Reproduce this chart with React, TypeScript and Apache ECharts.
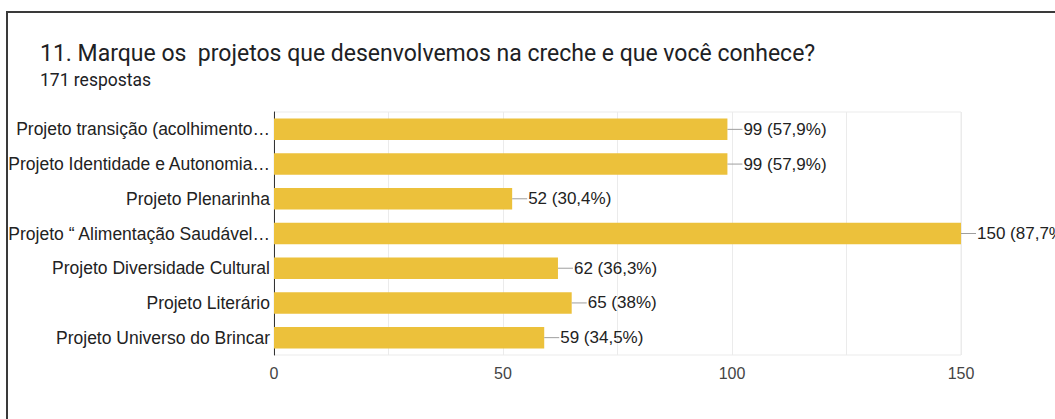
import React, { useEffect, useRef } from "react";
import * as echarts from "echarts";

const categories = [
  "Projeto transição (acolhimento…",
  "Projeto Identidade e Autonomia…",
  "Projeto Plenarinha",
  "Projeto “ Alimentação Saudável…",
  "Projeto Diversidade Cultural",
  "Projeto Literário",
  "Projeto Universo do Brincar",
];
const values = [99, 99, 52, 150, 62, 65, 59];
const percents = ["57,9%", "57,9%", "30,4%", "87,7%", "36,3%", "38%", "34,5%"];
const tickLabels = [0, 50, 100, 150];

const title = "11. Marque os  projetos que desenvolvemos na creche e que você conhece?";
const subtitle = "171 respostas";

export default function App() {
  const ref = useRef<HTMLDivElement>(null);
  useEffect(() => {
    if (!ref.current) return;
    const chart = echarts.init(ref.current, undefined, { renderer: "svg" });
    chart.setOption({
      animation: false,
      backgroundColor: "#ffffff",
      textStyle: { fontFamily: "Liberation Sans, Arial, sans-serif" },
      title: {
        text: title,
        subtext: subtitle,
        left: 35,
        top: 37,
        itemGap: 6,
        textStyle: {
          fontFamily: "Roboto, sans-serif",
          fontSize: 23,
          fontWeight: "normal",
          color: "#202124",
        },
        subtextStyle: {
          fontFamily: "Roboto, sans-serif",
          fontSize: 17.5,
          color: "#202124",
        },
      },
      graphic: [
        {
          type: "rect",
          shape: { x: 7, y: 12, width: 1200, height: 600 },
          style: { fill: "none", stroke: "#3a3a3a", lineWidth: 2 },
          silent: true,
        },
      ],
      grid: {
        left: 274,
        right: 94,
        top: 112,
        height: 243,
        show: true,
        borderColor: "#ebebeb",
        borderWidth: 1,
      },
      xAxis: {
        type: "value",
        min: 0,
        max: 150,
        interval: 25,
        axisLine: { show: false },
        axisTick: { show: false },
        splitLine: { lineStyle: { color: "#ebebeb", width: 1 } },
        axisLabel: {
          fontSize: 16,
          color: "#444444",
          margin: 10,
          formatter: (v: number) => (tickLabels.includes(v) ? String(v) : ""),
        },
      },
      yAxis: {
        type: "category",
        data: categories,
        inverse: true,
        axisLine: { show: true, lineStyle: { color: "#333333", width: 1 } },
        axisTick: { show: false },
        axisLabel: { fontSize: 17.5, color: "#222222", margin: 4 },
      },
      series: [
        {
          type: "bar",
          data: values,
          barCategoryGap: "38%",
          itemStyle: { color: "#ecc13b" },
          label: {
            show: true,
            position: "right",
            distance: 0,
            formatter: (p: any) => `{l|}{t|${values[p.dataIndex]} (${percents[p.dataIndex]})}`,
            rich: {
              l: { width: 15, height: 1, backgroundColor: "#9e9e9e" },
              t: { fontSize: 17, color: "#222222", padding: [0, 0, 0, 1] },
            },
          },
        },
      ],
    });
    return () => chart.dispose();
  }, []);
  return (
    <div
      ref={ref}
      style={{ position: "fixed", left: 0, top: 0, width: 1055, height: 419 }}
    />
  );
}
